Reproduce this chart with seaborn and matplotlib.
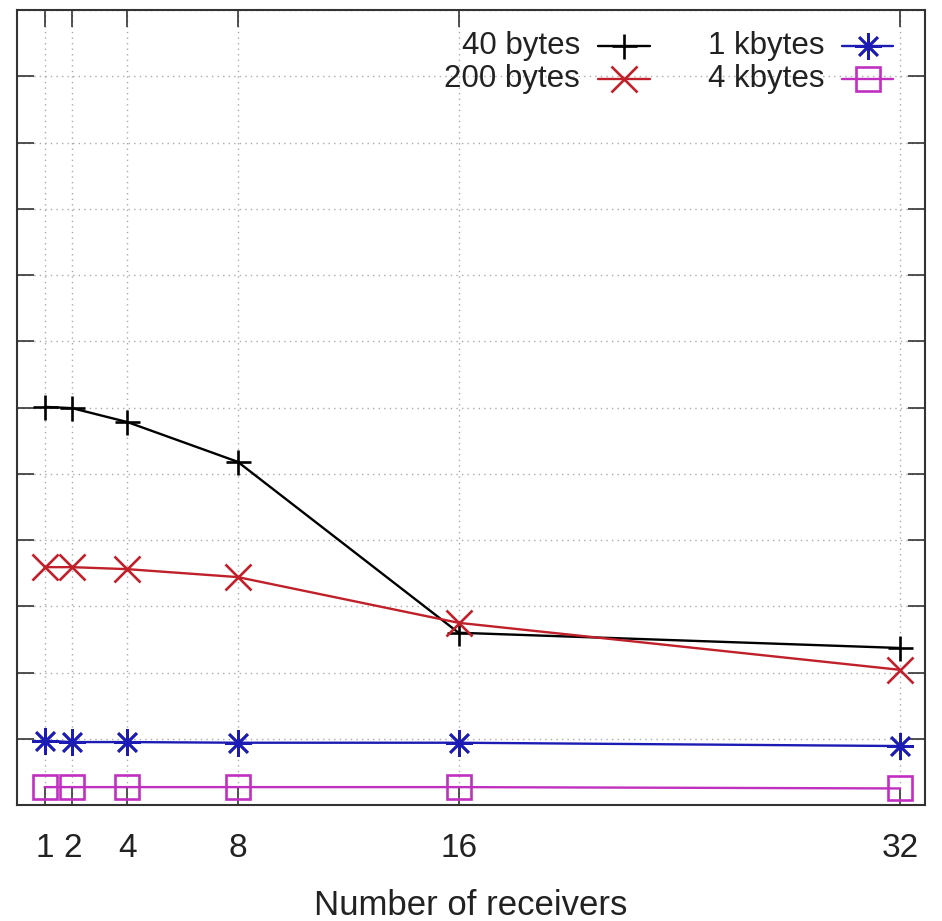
import numpy as np
import pandas as pd
import matplotlib
matplotlib.use("Agg")
import matplotlib.pyplot as plt
import seaborn as sns
from matplotlib.lines import Line2D

receivers = [1, 2, 4, 8, 16, 32]
series_names = ["40 bytes", "200 bytes", "1 kbytes", "4 kbytes"]
v40 = [6.01, 5.99, 5.78, 5.18, 2.60, 2.37]
v200 = [3.59, 3.59, 3.56, 3.44, 2.75, 2.04]
v1k = [0.97, 0.95, 0.95, 0.94, 0.94, 0.89]
v4k = [0.27, 0.27, 0.27, 0.27, 0.27, 0.25]
x_ticks = [1, 2, 4, 8, 16, 32]
y_ticks = list(range(0, 13))

colors = ["#000000", "#c0202a", "#1c1cb4", "#c030c0"]
markers = ["+", "x", (8, 2, 0), "s"]
msizes = [18, 19, 19, 17]

df = pd.DataFrame({
    "receivers": receivers * 4,
    "value": v40 + v200 + v1k + v4k,
    "series": sum([[n] * len(receivers) for n in series_names], []),
})

sns.set_style("white")
plt.rcParams["font.family"] = ["Liberation Sans", "DejaVu Sans"]

FS_LEG = 22.5
FS_TICK = 24
FS_LAB = 25
LW = 1.7
MEW = 1.9

fig = plt.figure(figsize=(9.42, 9.21), dpi=100)
ax = fig.add_axes([17 / 942, 1 - 805 / 921, 908 / 942, 795 / 921])

for name, c, m, ms in zip(series_names, colors, markers, msizes):
    sub = df[df["series"] == name]
    sns.lineplot(data=sub, x="receivers", y="value", ax=ax, color=c,
                 linewidth=LW, marker=m, markersize=ms,
                 markeredgewidth=MEW, markeredgecolor=c,
                 markerfacecolor="none" if m == "s" else c, legend=False)

ax.set_xlim(0, 32.9)
ax.set_ylim(0, 12)
ax.set_xticks(x_ticks)
ax.set_xticklabels([str(t) for t in x_ticks], fontsize=FS_TICK, color="#222222")
ax.set_yticks(y_ticks)
ax.set_yticklabels([])
ax.tick_params(axis="both", direction="in", length=12, width=1.2, color="#333333",
               top=True, right=True, bottom=True, left=True)
ax.tick_params(axis="x", pad=20)
ax.set_xlabel("Number of receivers", fontsize=FS_LAB, labelpad=18, color="#222222")
ax.set_ylabel("")
ax.grid(True, linestyle=(0, (1, 3)), color="#aaaaaa", linewidth=1.0)
for s in ax.spines.values():
    s.set_color("#333333")
    s.set_linewidth(1.5)

# legend (gnuplot style: text right-aligned, sample to the right)
rows_y = [0.955, 0.913]
cols = [(0.620, 0.640, 0.697), (0.889, 0.909, 0.965)]
pos = [(0, 0), (1, 0), (0, 1), (1, 1)]
for (r, ci), name, c, m, ms in zip(pos, series_names, colors, markers, msizes):
    tx, l0, l1 = cols[ci]
    y = rows_y[r]
    ax.text(tx, y, name, transform=ax.transAxes, ha="right", va="center",
            fontsize=FS_LEG, color="#222222")
    ax.add_line(Line2D([l0, l1], [y, y], transform=ax.transAxes, color=c,
                       linewidth=LW))
    ax.add_line(Line2D([(l0 + l1) / 2], [y], transform=ax.transAxes, color=c,
                       marker=m, markersize=ms, markeredgewidth=MEW,
                       markeredgecolor=c,
                       markerfacecolor="none" if m == "s" else c))

fig.savefig("out.png", dpi=100)
